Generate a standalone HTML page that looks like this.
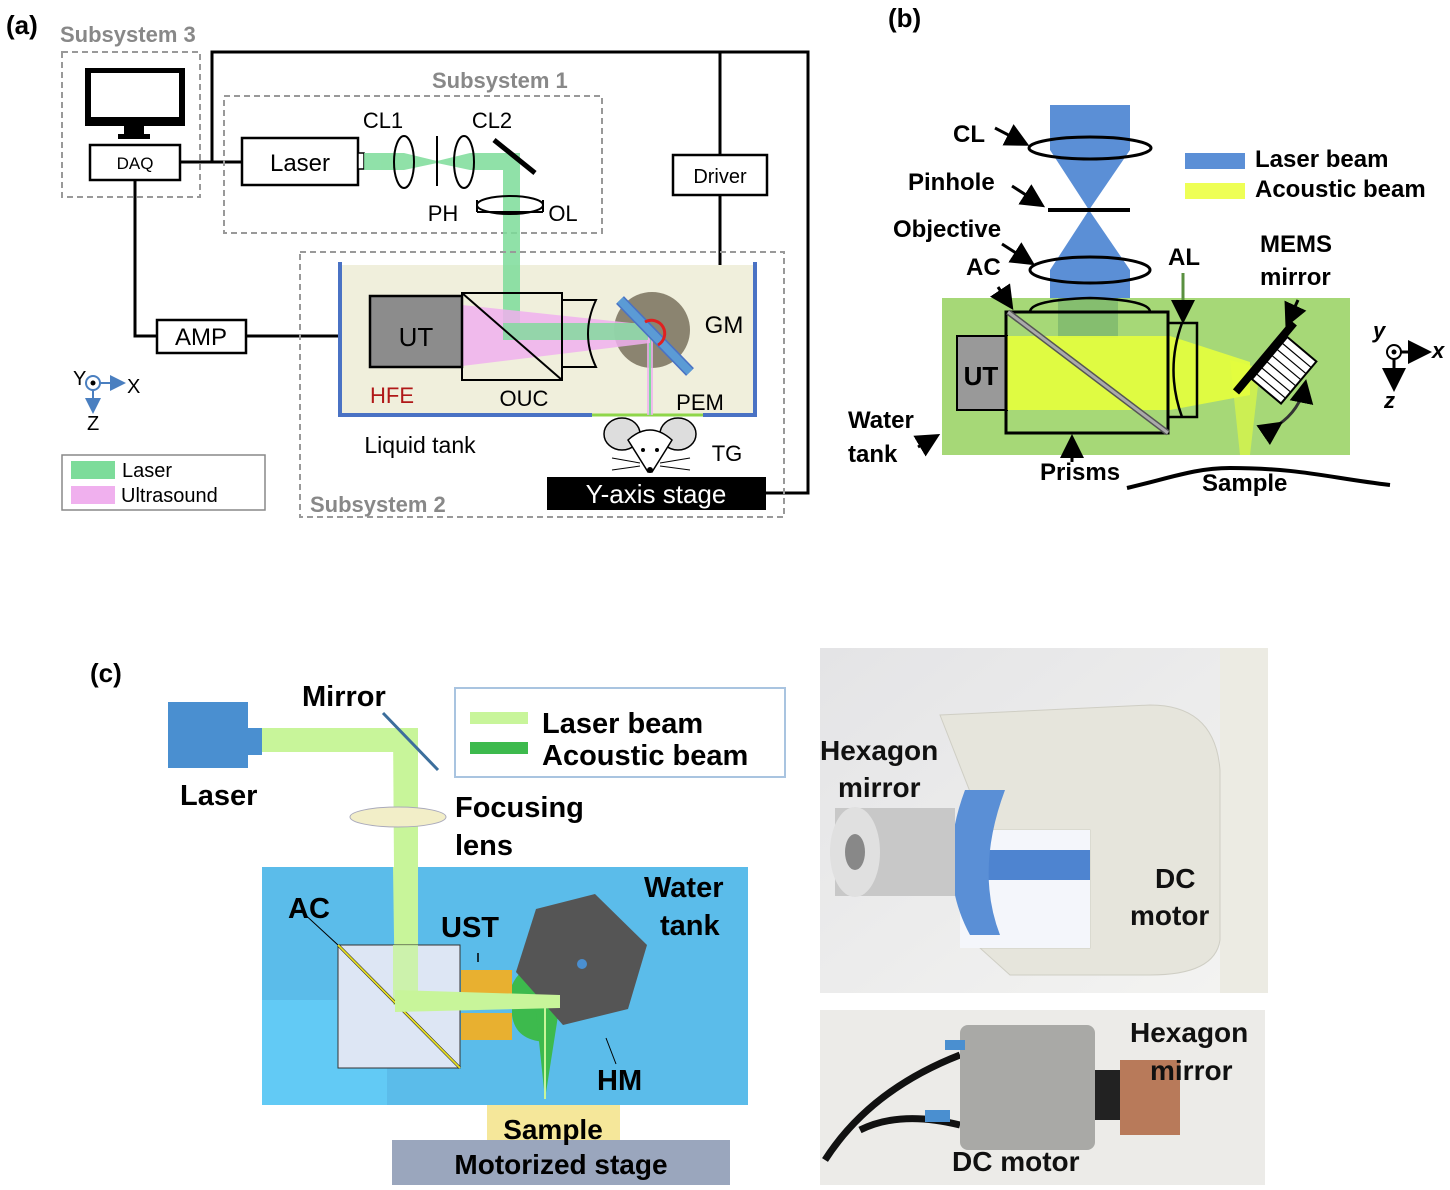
<!DOCTYPE html>
<html><head><meta charset="utf-8"><style>
html,body{margin:0;padding:0;background:#fff;}
svg{display:block;}
text{font-family:"Liberation Sans",sans-serif;}
.b{font-weight:bold;}
</style></head><body>
<svg width="1450" height="1190" viewBox="0 0 1450 1190" xmlns="http://www.w3.org/2000/svg">
<defs>
<marker id="ah" markerWidth="8" markerHeight="8" refX="6" refY="4" orient="auto"><path d="M0,0 L8,4 L0,8 z" fill="#000"/></marker>
<marker id="ahb" markerWidth="8" markerHeight="8" refX="6" refY="4" orient="auto"><path d="M0,0 L8,4 L0,8 z" fill="#4a7fc0"/></marker>
<linearGradient id="bg1" x1="0" y1="0" x2="1" y2="1"><stop offset="0" stop-color="#e4e4e6"/><stop offset="1" stop-color="#f4f4f2"/></linearGradient>
</defs>

<!-- ===== Panel (a) ===== -->
<text x="6" y="34" font-size="26" class="b">(a)</text>
<text x="60" y="42" font-size="22" class="b" fill="#888">Subsystem 3</text>
<rect x="62" y="52" width="138" height="145" fill="none" stroke="#999" stroke-width="2" stroke-dasharray="6,4"/>
<g stroke="#000" stroke-width="3" fill="none">
<polyline points="180,162 242,162"/>
<polyline points="212,162 212,52 808,52 808,493 766,493"/>
<polyline points="720,52 720,155"/>
<polyline points="720,195 720,270 690,310"/>
<polyline points="135,180 135,336 157,336"/>
<polyline points="246,336 370,336"/>
</g>
<rect x="85" y="68" width="100" height="58" fill="#000"/>
<rect x="91" y="73" width="88" height="44" fill="#fff"/>
<rect x="124" y="126" width="20" height="8" fill="#000"/>
<rect x="118" y="134" width="32" height="5" fill="#000"/>
<rect x="90" y="145" width="90" height="35" fill="#fff" stroke="#000" stroke-width="2.5"/>
<text x="135" y="169" font-size="17" text-anchor="middle">DAQ</text>
<rect x="224" y="96" width="378" height="137" fill="none" stroke="#999" stroke-width="2" stroke-dasharray="6,4"/>
<text x="432" y="88" font-size="22" class="b" fill="#888">Subsystem 1</text>
<rect x="242" y="138" width="116" height="47" fill="#fff" stroke="#000" stroke-width="2.5"/>
<text x="300" y="171" font-size="24" text-anchor="middle">Laser</text>
<rect x="358" y="153" width="6" height="16" fill="#fff" stroke="#000" stroke-width="1.5"/>
<g fill="#7ddc9a" opacity="0.85">
<polygon points="364,153 404,153 437,161 437,163 404,170 364,170"/>
<polygon points="437,161 470,153 520,153 520,170 470,170 437,163"/>
<rect x="503" y="153" width="17" height="187"/>
</g>
<g fill="none" stroke="#000" stroke-width="2">
<ellipse cx="404" cy="162" rx="10" ry="26"/>
<ellipse cx="464" cy="162" rx="10" ry="26"/>
<line x1="437" y1="136" x2="437" y2="186"/>
<ellipse cx="510" cy="205" rx="33" ry="9"/>
<path d="M477,200 L477,212 M543,200 L543,212 M477,212 L543,212"/>
</g>
<line x1="494" y1="140" x2="535" y2="173" stroke="#000" stroke-width="5"/>
<text x="383" y="128" font-size="22" text-anchor="middle">CL1</text>
<text x="492" y="128" font-size="22" text-anchor="middle">CL2</text>
<text x="443" y="221" font-size="22" text-anchor="middle">PH</text>
<text x="563" y="221" font-size="22" text-anchor="middle">OL</text>
<rect x="673" y="155" width="94" height="40" fill="#fff" stroke="#000" stroke-width="2.5"/>
<text x="720" y="183" font-size="20" text-anchor="middle">Driver</text>
<rect x="300" y="252" width="484" height="265" fill="none" stroke="#999" stroke-width="2" stroke-dasharray="6,4"/>
<text x="310" y="512" font-size="22" class="b" fill="#888">Subsystem 2</text>
<rect x="342" y="265" width="413" height="150" fill="#f0efdc"/>
<rect x="503" y="265" width="17" height="75" fill="#7ddc9a" opacity="0.85"/>
<g stroke="#4a72c4" stroke-width="4" fill="none">
<polyline points="340,262 340,415 592,415"/>
<polyline points="703,415 755,415 755,262"/>
</g>
<line x1="592" y1="415" x2="703" y2="415" stroke="#8fd64a" stroke-width="3"/>
<rect x="157" y="320" width="89" height="33" fill="#fff" stroke="#000" stroke-width="2.5"/>
<text x="201" y="345" font-size="24" text-anchor="middle">AMP</text>
<ellipse cx="652" cy="330" rx="38" ry="38" fill="#8b8470"/>
<line x1="650" y1="335" x2="650" y2="415" stroke="#f0b0f0" stroke-width="6" opacity="0.8"/>
<line x1="650" y1="335" x2="650" y2="415" stroke="#7ddc9a" stroke-width="2"/>
<polygon points="462,305 650,325 650,343 462,366" fill="#f0b0ee" opacity="0.85"/>
<rect x="503" y="323" width="145" height="17" fill="#7ddc9a" opacity="0.8"/>
<rect x="370" y="296" width="92" height="71" fill="#8c8c8c" stroke="#000" stroke-width="2.5"/>
<text x="416" y="346" font-size="26" text-anchor="middle">UT</text>
<rect x="462" y="293" width="100" height="87" fill="none" stroke="#000" stroke-width="2"/>
<line x1="462" y1="293" x2="562" y2="380" stroke="#000" stroke-width="2"/>
<path d="M562,300 L596,300 Q580,334 596,367 L562,367" fill="none" stroke="#000" stroke-width="2"/>
<line x1="620" y1="300" x2="690" y2="372" stroke="#4a72c4" stroke-width="11"/>
<line x1="620" y1="300" x2="690" y2="372" stroke="#5b9bd5" stroke-width="8"/>
<path d="M645,322 A12,12 0 1 1 658,345" fill="none" stroke="#e02020" stroke-width="3"/>
<text x="724" y="333" font-size="24" text-anchor="middle">GM</text>
<text x="392" y="403" font-size="22" fill="#b01818" text-anchor="middle">HFE</text>
<text x="524" y="406" font-size="22" text-anchor="middle">OUC</text>
<text x="700" y="410" font-size="22" text-anchor="middle">PEM</text>
<text x="420" y="453" font-size="23" text-anchor="middle">Liquid tank</text>
<text x="727" y="461" font-size="22" text-anchor="middle">TG</text>
<g stroke="#000" stroke-width="1.5" fill="#fff">
<ellipse cx="622" cy="434" rx="18" ry="16" fill="#ddd"/>
<ellipse cx="678" cy="434" rx="18" ry="16" fill="#ddd"/>
<path d="M628,440 Q650,420 672,440 L652,472 L648,472 Z"/>
</g>
<circle cx="643" cy="450" r="2" fill="#000"/><circle cx="657" cy="450" r="2" fill="#000"/>
<circle cx="650" cy="470" r="3" fill="#000"/>
<g stroke="#000" stroke-width="1"><line x1="640" y1="463" x2="612" y2="458"/><line x1="640" y1="466" x2="612" y2="470"/><line x1="660" y1="463" x2="690" y2="458"/><line x1="660" y1="466" x2="690" y2="470"/></g>
<rect x="547" y="477" width="219" height="33" fill="#000"/>
<text x="656" y="503" font-size="26" fill="#fff" text-anchor="middle">Y-axis stage</text>
<circle cx="93" cy="383" r="7" fill="#fff" stroke="#4a7fc0" stroke-width="2"/>
<circle cx="93" cy="383" r="2.5" fill="#000"/>
<line x1="100" y1="383" x2="122" y2="383" stroke="#4a7fc0" stroke-width="2" marker-end="url(#ahb)"/>
<line x1="93" y1="390" x2="93" y2="410" stroke="#4a7fc0" stroke-width="2" marker-end="url(#ahb)"/>
<text x="73" y="385" font-size="20">Y</text>
<text x="127" y="393" font-size="20">X</text>
<text x="87" y="430" font-size="20">Z</text>
<rect x="62" y="455" width="203" height="55" fill="#fff" stroke="#888" stroke-width="1.5"/>
<rect x="71" y="461" width="44" height="18" fill="#7ddc9a"/>
<rect x="71" y="486" width="44" height="18" fill="#f0b0ee"/>
<text x="122" y="477" font-size="20">Laser</text>
<text x="121" y="502" font-size="20">Ultrasound</text>

<!-- ===== Panel (b) ===== -->
<text x="888" y="27" font-size="26" class="b">(b)</text>
<g fill="#5b8fd6">
<polygon points="1050,105 1130,105 1130,150 1089,210 1050,150"/>
<polygon points="1089,210 1130,270 1130,310 1050,310 1050,270"/>
</g>
<rect x="942" y="298" width="408" height="157" fill="#a6d877"/>
<rect x="1058" y="298" width="60" height="40" fill="#6fae6a" opacity="0.6"/>
<rect x="957" y="336" width="50" height="74" fill="#999" stroke="#000" stroke-width="2"/>
<text x="981" y="385" font-size="26" class="b" text-anchor="middle">UT</text>
<polygon points="1007,336 1170,336 1250,362 1250,395 1170,410 1007,410" fill="#e6ff3c" opacity="0.9"/>
<polygon points="1230,360 1260,368 1250,455 1240,455" fill="#e6ff3c" opacity="0.6"/>
<rect x="1006" y="312" width="162" height="121" fill="none" stroke="#000" stroke-width="3"/>
<line x1="1008" y1="312" x2="1168" y2="433" stroke="#555" stroke-width="6"/>
<line x1="1008" y1="312" x2="1168" y2="433" stroke="#aaa" stroke-width="3"/>
<path d="M1168,323 L1197,323 L1197,417 L1168,417 M1182,323 Q1165,370 1182,417" fill="none" stroke="#000" stroke-width="2.5"/>
<path d="M1030,312 Q1030,300 1090,298 Q1150,300 1150,312" fill="none" stroke="#000" stroke-width="2.5"/>
<g fill="none" stroke="#000" stroke-width="3">
<ellipse cx="1090" cy="148" rx="61" ry="11"/>
<ellipse cx="1090" cy="270" rx="60" ry="13"/>
</g>
<line x1="1048" y1="210" x2="1130" y2="210" stroke="#000" stroke-width="4"/>
<g transform="translate(1268,360) rotate(40)">
<rect x="-8" y="-45" width="8" height="90" fill="#000"/>
<rect x="0" y="-30" width="38" height="55" fill="#fff" stroke="#000" stroke-width="2"/>
<g stroke="#000" stroke-width="1.2"><line x1="0" y1="-22" x2="38" y2="-22"/><line x1="0" y1="-14" x2="38" y2="-14"/><line x1="0" y1="-6" x2="38" y2="-6"/><line x1="0" y1="2" x2="38" y2="2"/><line x1="0" y1="10" x2="38" y2="10"/><line x1="0" y1="18" x2="38" y2="18"/></g>
</g>
<path d="M1278,425 Q1300,410 1305,385" fill="none" stroke="#333" stroke-width="3" marker-end="url(#ah)" marker-start="url(#ah)"/>
<path d="M1127,488 C1170,478 1195,468 1230,468 C1300,468 1330,478 1390,485" fill="none" stroke="#000" stroke-width="4"/>
<g stroke="#000" stroke-width="3" fill="none">
<line x1="995" y1="128" x2="1024" y2="143" marker-end="url(#ah)"/>
<line x1="1012" y1="186" x2="1040" y2="204" marker-end="url(#ah)"/>
<line x1="1002" y1="244" x2="1030" y2="262" marker-end="url(#ah)"/>
<line x1="998" y1="287" x2="1010" y2="305" marker-end="url(#ah)"/>
<line x1="1183" y1="273" x2="1183" y2="318" stroke="#5a9040" marker-end="url(#ah)"/>
<line x1="1298" y1="300" x2="1288" y2="322" marker-end="url(#ah)"/>
<line x1="1072" y1="462" x2="1072" y2="440" marker-end="url(#ah)"/>
<line x1="918" y1="447" x2="935" y2="437" marker-end="url(#ah)"/>
</g>
<rect x="1185" y="153" width="60" height="16" fill="#5b8fd6"/>
<rect x="1185" y="183" width="60" height="16" fill="#eeff55"/>
<g class="b" font-size="24">
<text x="1255" y="167">Laser beam</text>
<text x="1255" y="197">Acoustic beam</text>
<text x="953" y="142">CL</text>
<text x="908" y="190">Pinhole</text>
<text x="893" y="237">Objective</text>
<text x="966" y="275">AC</text>
<text x="1168" y="265">AL</text>
<text x="1260" y="252">MEMS</text>
<text x="1260" y="285">mirror</text>
<text x="848" y="428">Water</text>
<text x="848" y="462">tank</text>
<text x="1040" y="480">Prisms</text>
<text x="1202" y="491">Sample</text>
</g>
<circle cx="1394" cy="352" r="7" fill="#fff" stroke="#000" stroke-width="2"/>
<circle cx="1394" cy="352" r="2.5" fill="#000"/>
<line x1="1401" y1="352" x2="1426" y2="352" stroke="#000" stroke-width="3" marker-end="url(#ah)"/>
<line x1="1394" y1="359" x2="1394" y2="386" stroke="#000" stroke-width="3" marker-end="url(#ah)"/>
<text x="1373" y="338" font-size="22" class="b" font-style="italic">y</text>
<text x="1432" y="358" font-size="22" class="b" font-style="italic">x</text>
<text x="1384" y="408" font-size="22" class="b" font-style="italic">z</text>

<!-- ===== Panel (c) ===== -->
<text x="90" y="682" font-size="26" class="b">(c)</text>
<rect x="168" y="702" width="80" height="66" fill="#4a8fd0"/>
<rect x="248" y="728" width="14" height="27" fill="#4a8fd0"/>
<rect x="262" y="728" width="148" height="24" fill="#c8f59a"/>
<polygon points="393,728 418,728 418,1005 395,1005" fill="#c8f59a"/>
<line x1="383" y1="713" x2="438" y2="770" stroke="#3c6e9c" stroke-width="3"/>
<ellipse cx="398" cy="817" rx="48" ry="10" fill="#f2eec8" stroke="#aab" stroke-width="1"/>
<rect x="455" y="688" width="330" height="89" fill="#fff" stroke="#a9c4e0" stroke-width="2"/>
<rect x="470" y="712" width="58" height="12" fill="#c8f59a"/>
<rect x="470" y="742" width="58" height="12" fill="#3dba4d"/>
<g class="b" font-size="29">
<text x="542" y="733">Laser beam</text>
<text x="542" y="765">Acoustic beam</text>
<text x="180" y="805">Laser</text>
<text x="302" y="706">Mirror</text>
<text x="455" y="817">Focusing</text>
<text x="455" y="855">lens</text>
</g>
<rect x="262" y="867" width="486" height="238" fill="#5bbcea"/>
<rect x="262" y="1000" width="125" height="105" fill="#62caf5"/>
<polygon points="393,867 418,867 418,1005 395,1005" fill="#c8f59a"/>
<rect x="338" y="945" width="122" height="123" fill="#dde6f4" stroke="#333" stroke-width="1"/>
<rect x="393" y="945" width="25" height="60" fill="#c8f59a" opacity="0.8"/>
<line x1="338" y1="945" x2="460" y2="1068" stroke="#333" stroke-width="3"/>
<line x1="338" y1="945" x2="460" y2="1068" stroke="#e8e020" stroke-width="1.8"/>
<line x1="300" y1="910" x2="338" y2="945" stroke="#000" stroke-width="1"/>
<rect x="461" y="970" width="51" height="25" fill="#e8b030"/>
<rect x="461" y="1013" width="51" height="27" fill="#e8b030"/>
<path d="M512,985 Q520,968 535,965 L565,1003 L545,1042 Q515,1040 512,1015 Z" fill="#3dba4d"/>
<polygon points="535,1003 560,1003 545,1099" fill="#3dba4d"/>
<polygon points="536,909 595,894 647,945 628,1009 563,1025 516,972" fill="#555"/>
<polygon points="395,990 560,995 560,1008 395,1012" fill="#c8f59a"/>
<line x1="545" y1="1005" x2="545" y2="1099" stroke="#c8f59a" stroke-width="2"/>
<circle cx="582" cy="964" r="5" fill="#4a8fd0"/>
<line x1="616" y1="1064" x2="606" y2="1038" stroke="#000" stroke-width="1"/>
<line x1="478" y1="953" x2="478" y2="962" stroke="#000" stroke-width="1.5"/>
<g class="b" font-size="29">
<text x="288" y="918">AC</text>
<text x="441" y="937">UST</text>
<text x="644" y="897">Water</text>
<text x="660" y="935">tank</text>
<text x="597" y="1090">HM</text>
</g>
<rect x="487" y="1105" width="133" height="37" fill="#f5e79a"/>
<rect x="392" y="1140" width="338" height="45" fill="#9aa6bd"/>
<g class="b" font-size="28" text-anchor="middle">
<text x="553" y="1139">Sample</text>
<text x="561" y="1174">Motorized stage</text>
</g>

<!-- photos -->
<rect x="820" y="648" width="448" height="345" fill="url(#bg1)"/>
<rect x="1220" y="648" width="48" height="345" fill="#ecebe3"/>
<path d="M940,715 L1150,705 Q1215,705 1220,770 L1220,940 Q1215,975 1150,975 L1010,975 L980,948 L1090,948 L1090,830 L985,830 Z" fill="#e6e5dc" stroke="#cfcec4"/>
<rect x="960" y="830" width="130" height="118" fill="#f4f6fb"/>
<rect x="975" y="850" width="115" height="30" fill="#4e84d0"/>
<path d="M965,790 Q935,870 970,935 L1000,935 Q975,870 1005,790 Z" fill="#5a8fd6"/>
<rect x="835" y="808" width="120" height="88" fill="#c8c8c8"/>
<ellipse cx="855" cy="852" rx="25" ry="45" fill="#e0e0e0"/>
<ellipse cx="855" cy="852" rx="10" ry="18" fill="#888"/>
<rect x="820" y="1010" width="445" height="175" fill="#ecebe8"/>
<path d="M825,1160 Q870,1090 960,1055" fill="none" stroke="#111" stroke-width="7"/>
<path d="M860,1130 Q900,1110 960,1125" fill="none" stroke="#111" stroke-width="7"/>
<rect x="960" y="1025" width="135" height="125" rx="8" fill="#a9a9a6"/>
<rect x="1120" y="1060" width="60" height="75" fill="#b87a5a"/>
<rect x="1095" y="1070" width="25" height="50" fill="#222"/>
<rect x="945" y="1040" width="20" height="10" fill="#4a8fd0"/><rect x="925" y="1110" width="25" height="12" fill="#4a8fd0"/>
<g class="b" font-size="28" fill="#111">
<text x="820" y="760">Hexagon</text>
<text x="838" y="797">mirror</text>
<text x="1155" y="888">DC</text>
<text x="1130" y="925">motor</text>
<text x="1130" y="1042">Hexagon</text>
<text x="1150" y="1080">mirror</text>
<text x="952" y="1171">DC motor</text>
</g>
</svg>
</body></html>
